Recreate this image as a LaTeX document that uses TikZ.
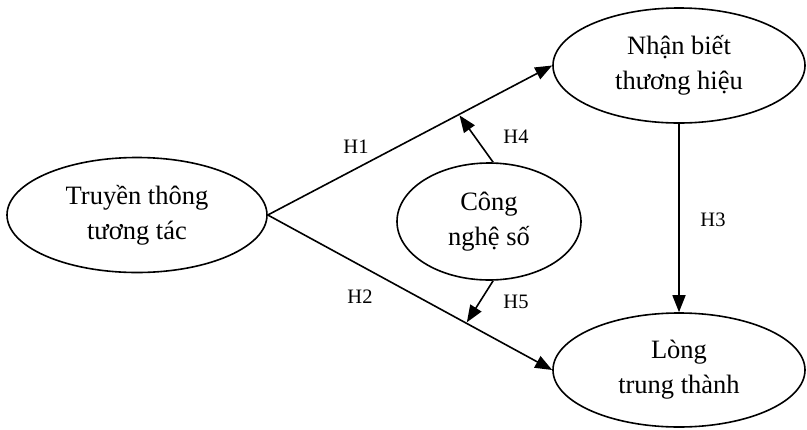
\documentclass[tikz,border=0pt]{standalone}
\usepackage{fontspec}
\setmainfont{Liberation Serif}
\usetikzlibrary{shapes.geometric,arrows.meta,calc}
\begin{document}
\begin{tikzpicture}[x=1pt,y=-1pt,
  construct/.style={ellipse,draw,line width=1.6pt,inner sep=0pt,align=center,
    font=\fontsize{26.5}{35}\selectfont},
  link/.style={line width=1.6pt,-{Triangle[length=17pt,width=13pt]}},
  hlabel/.style={font=\fontsize{20.5}{24}\selectfont,inner sep=0pt}]
\useasboundingbox (0,0) rectangle (807,429);
% constructs
\node[construct,minimum width=260pt,minimum height=115pt] (L) at (137,215) {Truyền thông\\tương tác};
\node[construct,minimum width=252pt,minimum height=115pt] (T) at (679,65.5) {Nhận biết\\thương hiệu};
\node[construct,minimum width=252pt,minimum height=114pt] (B) at (679,370) {Lòng\\trung thành};
\node[construct,minimum width=184pt,minimum height=117pt] (M) at (489,221.5) {Công\\nghệ số};
% direct paths
\draw[link] (L.east) -- (T.west);
\draw[link] (L.east) -- (B.west);
\draw[link] (T.south) -- (B.north);
% moderating paths
\coordinate (h4) at ($(L.east)!0.672!(T.west)$);
\coordinate (h5) at ($(L.east)!0.698!(B.west)$);
\draw[link,shorten >=1pt] (M.86) -- (h4);
\draw[link,shorten >=1pt] (M.-86) -- (h5);
% labels
\node[hlabel] (l1) at (356,147) {H1};
\node[hlabel] (l2) at (360,297) {H2};
\node[hlabel] (l3) at (713,220) {H3};
\node[hlabel] (l4) at (516,137) {H4};
\node[hlabel] (l5) at (516,302) {H5};
\end{tikzpicture}
\end{document}
